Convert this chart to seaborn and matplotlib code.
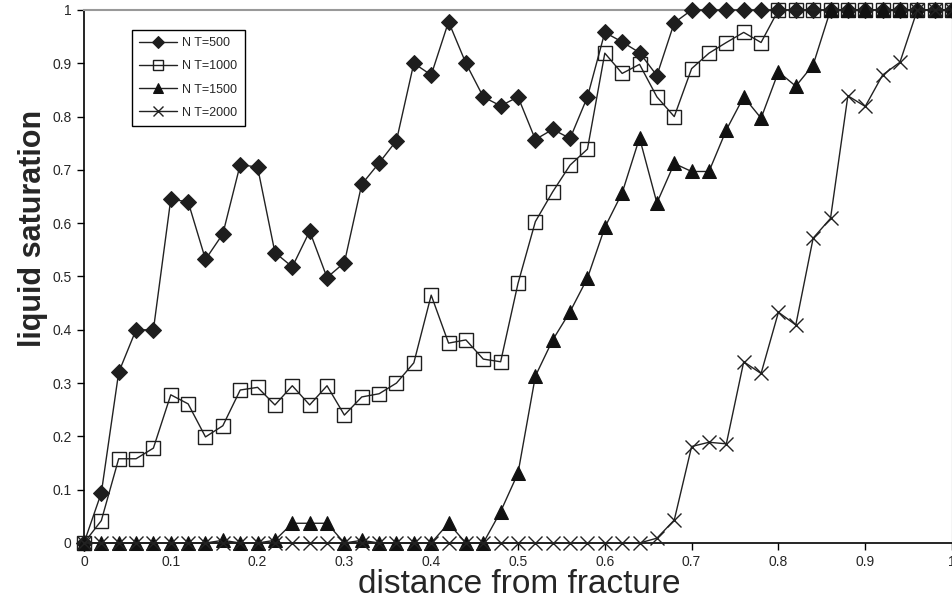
import matplotlib
matplotlib.use("Agg")
import matplotlib.pyplot as plt
import seaborn as sns
import numpy as np
import pandas as pd

x = [round(0.02 * i, 2) for i in range(51)]

nt500 = [0, 0.094, 0.32, 0.40, 0.40, 0.645, 0.64, 0.532, 0.58, 0.71,
         0.705, 0.545, 0.518, 0.585, 0.498, 0.526, 0.673, 0.713, 0.755, 0.90,
         0.878, 0.978, 0.90, 0.837, 0.82, 0.837, 0.757, 0.776, 0.759, 0.837,
         0.958, 0.94, 0.92, 0.877, 0.976, 1, 1, 1, 1, 1,
         1, 1, 1, 1, 1, 1, 1, 1, 1, 1, 1]
nt1000 = [0, 0.042, 0.158, 0.158, 0.178, 0.278, 0.261, 0.199, 0.22, 0.287,
          0.292, 0.259, 0.295, 0.259, 0.295, 0.24, 0.274, 0.28, 0.30, 0.338,
          0.465, 0.375, 0.381, 0.345, 0.34, 0.487, 0.603, 0.659, 0.709, 0.739,
          0.919, 0.881, 0.898, 0.837, 0.80, 0.89, 0.919, 0.939, 0.958, 0.939,
          1, 1, 1, 1, 1, 1, 1, 1, 1, 1, 1]
nt1500 = [0, 0, 0, 0, 0, 0, 0, 0, 0.005, 0,
          0, 0.005, 0.037, 0.037, 0.037, 0, 0.005, 0, 0, 0,
          0, 0.037, 0, 0, 0.059, 0.131, 0.313, 0.381, 0.434, 0.497,
          0.592, 0.657, 0.76, 0.638, 0.712, 0.697, 0.697, 0.775, 0.837, 0.797,
          0.884, 0.857, 0.897, 1, 1, 1, 1, 1, 1, 1, 1]
nt2000 = [0, 0, 0, 0, 0, 0, 0, 0, 0, 0,
          0, 0, 0, 0, 0, 0, 0, 0, 0, 0,
          0, 0, 0, 0, 0, 0, 0, 0, 0, 0,
          0, 0, 0, 0.009, 0.043, 0.181, 0.189, 0.186, 0.34, 0.318,
          0.433, 0.409, 0.572, 0.609, 0.839, 0.819, 0.878, 0.902, 1, 1, 1]

labels = ["N T=500", "N T=1000", "N T=1500", "N T=2000"]
series = [nt500, nt1000, nt1500, nt2000]
tick_labels = ["0", "0.1", "0.2", "0.3", "0.4", "0.5", "0.6", "0.7", "0.8", "0.9", "1"]

sns.set_theme(style="white")
plt.rcParams['font.family'] = ['Liberation Sans', 'DejaVu Sans']

fig = plt.figure(figsize=(9.53, 6.09), dpi=100)
ax = fig.add_axes([0.0881, 0.1084, 0.9109, 0.8752])

styles = [
    dict(marker="D", markersize=8.5, markerfacecolor="#1e1e1e", markeredgecolor="#1e1e1e"),
    dict(marker="s", markersize=10.5, markerfacecolor="none", markeredgecolor="#1e1e1e", markeredgewidth=1.0),
    dict(marker="^", markersize=9.5, markerfacecolor="#111111", markeredgecolor="#111111"),
    dict(marker="x", markersize=9.5, markeredgecolor="#222222", markeredgewidth=1.0),
]

for lab, ys, st in zip(labels, series, styles):
    df = pd.DataFrame({"x": x, "y": ys})
    sns.lineplot(data=df, x="x", y="y", ax=ax, color="#222222", linewidth=1.0,
                 label=lab, clip_on=False, zorder=3, **st)

ax.set_xlim(0, 1)
ax.set_ylim(0, 1)
ax.set_xticks(np.arange(0, 1.01, 0.1))
ax.set_xticklabels(tick_labels)
ax.set_yticks(np.arange(0, 1.01, 0.1))
ax.set_yticklabels(tick_labels)
ax.tick_params(axis="both", which="major", direction="out", length=5, width=1,
               color="black", labelsize=10, bottom=True, left=True, pad=4)

for s in ["left", "bottom"]:
    ax.spines[s].set_color("black")
    ax.spines[s].set_linewidth(1.2)
ax.spines["top"].set_color("#999999")
ax.spines["top"].set_linewidth(1.5)
ax.spines["right"].set_color("#cccccc")
ax.spines["right"].set_linewidth(1.0)
ax.grid(False)

ax.set_xlabel("distance from fracture", fontsize=24)
ax.xaxis.set_label_coords(0.502, -0.049)
ax.set_ylabel("liquid saturation", fontsize=22, fontweight="bold")
ax.yaxis.set_label_coords(-0.059, 0.59)
ax.yaxis.label.set_va("center")

leg = ax.legend(loc="upper left", bbox_to_anchor=(0.048, 0.975), fontsize=9,
                frameon=True, fancybox=False, edgecolor="black", framealpha=1,
                handlelength=3, borderpad=0.6, labelspacing=0.9, handletextpad=0.4,
                markerscale=0.7)
leg.get_frame().set_linewidth(1.0)

fig.savefig("out.png", dpi=100)
